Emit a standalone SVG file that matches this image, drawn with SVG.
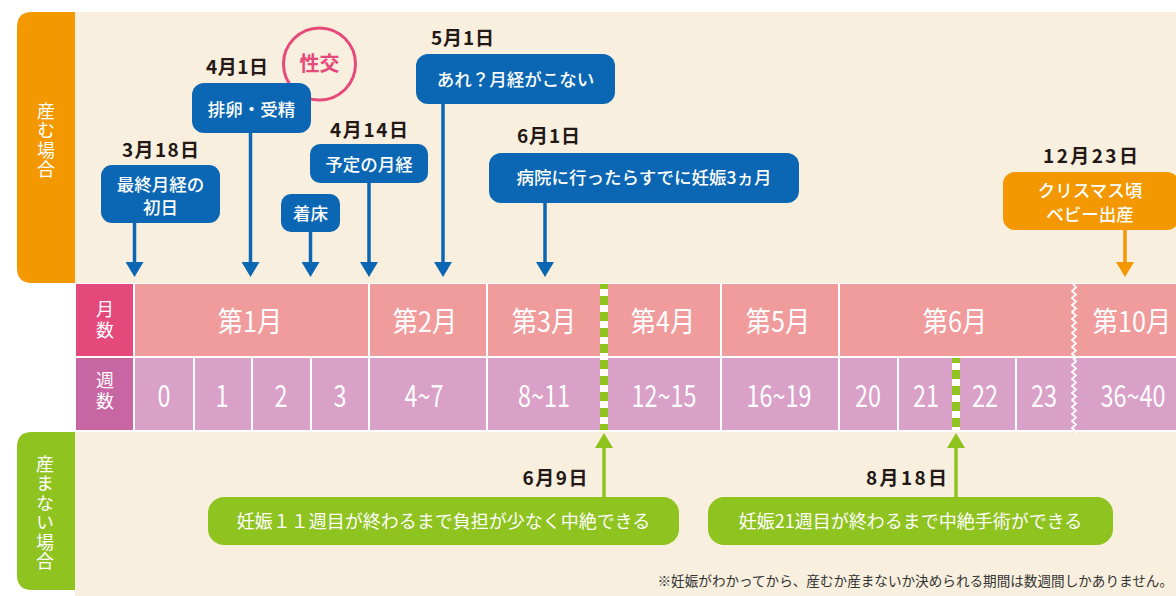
<svg xmlns="http://www.w3.org/2000/svg" width="1176" height="596" viewBox="0 0 1176 596">
<defs>
<style>
text{font-family:"Noto Sans CJK JP","Noto Sans CJK SC",sans-serif}
.cream{fill:#F8EFDE}
.vt{fill:#fff;font-size:18px;text-anchor:middle;writing-mode:vertical-rl}
.date{fill:#231815;font-size:19px;font-weight:700;text-anchor:middle}
.bx{fill:#0B67B3}
.bt{fill:#fff;font-size:17.5px;font-weight:500;text-anchor:middle}
.gt{fill:#fff;font-size:18px;text-anchor:middle}
.tm{fill:#fff;font-size:28px;text-anchor:middle}
.tw{fill:#fff;font-size:30px;text-anchor:middle}
.sep{stroke:#fff;stroke-width:2}
.blue{stroke:#0B67B3;stroke-width:3.5;fill:none}
.gline{stroke:#8FC31F;stroke-width:3.5;fill:none}
</style>
<marker id="ab" markerUnits="userSpaceOnUse" viewBox="0 0 15 18" refX="0" refY="9" markerWidth="15" markerHeight="18" orient="auto"><path d="M0,0 L15,9 L0,18 Z" fill="#0B67B3"/></marker>
<marker id="ao" markerUnits="userSpaceOnUse" viewBox="0 0 15 18" refX="0" refY="9" markerWidth="15" markerHeight="18" orient="auto"><path d="M0,0 L15,9 L0,18 Z" fill="#F39800"/></marker>
<marker id="ag" markerUnits="userSpaceOnUse" viewBox="0 0 15 18" refX="0" refY="9" markerWidth="15" markerHeight="18" orient="auto"><path d="M0,0 L15,9 L0,18 Z" fill="#8FC31F"/></marker>
</defs>
<rect width="1176" height="596" fill="#fff"/>

<g id="panel-top">
<rect class="cream" x="75" y="12" width="1101" height="271"/>
<path d="M75,12 H32 Q17,12 17,27 V268 Q17,283 32,283 H75 Z" fill="#F39800"/>
<text class="vt" x="46" y="141" letter-spacing="1.5">産む場合</text>
</g>

<g id="panel-bottom">
<rect class="cream" x="75" y="432" width="1101" height="164"/>
<path d="M75,432 H32 Q17,432 17,447 V575 Q17,590 32,590 H75 Z" fill="#8FC31F"/>
<text class="vt" x="45" y="513.5" letter-spacing="1.5">産まない場合</text>
</g>

<g id="table">
<rect x="76" y="284" width="57" height="72" fill="#E5497B"/>
<rect x="135" y="284" width="1041" height="72" fill="#F09B9C"/>
<rect x="76" y="358" width="57" height="72" fill="#C866A4"/>
<rect x="135" y="358" width="1041" height="72" fill="#D9A0C8"/>
<g class="sep">
<line x1="369" y1="284" x2="369" y2="430"/>
<line x1="487" y1="284" x2="487" y2="430"/>
<line x1="721" y1="284" x2="721" y2="430"/>
<line x1="839" y1="284" x2="839" y2="430"/>
<line x1="194" y1="358" x2="194" y2="430"/>
<line x1="252" y1="358" x2="252" y2="430"/>
<line x1="311" y1="358" x2="311" y2="430"/>
<line x1="898" y1="358" x2="898" y2="430"/>
<line x1="1016" y1="358" x2="1016" y2="430"/>
</g>
<path d="M1073,284 l3,3.5 -4,3.5 4,3.5 -4,3.5 4,3.5 -4,3.5 4,3.5 -4,3.5 4,3.5 -4,3.5 4,3.5 -4,3.5 4,3.5 -4,3.5 4,3.5 -4,3.5 4,3.5 -4,3.5 4,3.5 -4,3.5 4,3.5 -1,1.5 M1073,358 l3,3.5 -4,3.5 4,3.5 -4,3.5 4,3.5 -4,3.5 4,3.5 -4,3.5 4,3.5 -4,3.5 4,3.5 -4,3.5 4,3.5 -4,3.5 4,3.5 -4,3.5 4,3.5 -4,3.5 4,3.5 -4,3.5 4,3.5 -1,1.5" fill="none" stroke="#fff" stroke-width="1.8"/>
<text class="vt" x="105" y="321.5" letter-spacing="3">月数</text>
<text class="vt" x="105" y="392.5" letter-spacing="3">週数</text>
<text class="tm" transform="translate(250,332) scale(0.9,1)">第1月</text>
<text class="tm" transform="translate(425,332) scale(0.9,1)">第2月</text>
<text class="tm" transform="translate(544,332) scale(0.9,1)">第3月</text>
<text class="tm" transform="translate(663,332) scale(0.9,1)">第4月</text>
<text class="tm" transform="translate(778,332) scale(0.9,1)">第5月</text>
<text class="tm" transform="translate(955,332) scale(0.9,1)">第6月</text>
<text class="tm" transform="translate(1132,332) scale(0.9,1)">第10月</text>
<text class="tw" transform="translate(164,407) scale(0.78,1)">0</text>
<text class="tw" transform="translate(222,407) scale(0.78,1)">1</text>
<text class="tw" transform="translate(281,407) scale(0.78,1)">2</text>
<text class="tw" transform="translate(340,407) scale(0.78,1)">3</text>
<text class="tw" transform="translate(424,407) scale(0.78,1)">4~7</text>
<text class="tw" transform="translate(544,407) scale(0.78,1)">8~11</text>
<text class="tw" transform="translate(664,407) scale(0.78,1)">12~15</text>
<text class="tw" transform="translate(779,407) scale(0.78,1)">16~19</text>
<text class="tw" transform="translate(868,407) scale(0.78,1)">20</text>
<text class="tw" transform="translate(926,407) scale(0.78,1)">21</text>
<text class="tw" transform="translate(985,407) scale(0.78,1)">22</text>
<text class="tw" transform="translate(1044,407) scale(0.78,1)">23</text>
<text class="tw" transform="translate(1133,407) scale(0.78,1)">36~40</text>
<line x1="604" y1="284" x2="604" y2="430" stroke="#fff" stroke-width="8"/>
<line x1="604" y1="284" x2="604" y2="430" stroke="#8FC31F" stroke-width="8" stroke-dasharray="9 7" stroke-dashoffset="4"/>
<line x1="956" y1="358" x2="956" y2="430" stroke="#fff" stroke-width="8"/>
<line x1="956" y1="358" x2="956" y2="430" stroke="#8FC31F" stroke-width="8" stroke-dasharray="9 7" stroke-dashoffset="4"/>
</g>

<g id="connectors">
<path class="blue" d="M134.5,223 V262" marker-end="url(#ab)"/>
<path class="blue" d="M250.5,133 V262" marker-end="url(#ab)"/>
<path class="blue" d="M310.5,232 V262" marker-end="url(#ab)"/>
<path class="blue" d="M369,183 V262" marker-end="url(#ab)"/>
<path class="blue" d="M443,104 V262" marker-end="url(#ab)"/>
<path class="blue" d="M545,203 V262" marker-end="url(#ab)"/>
<path d="M1125,230 V262" stroke="#F39800" stroke-width="3.5" fill="none" marker-end="url(#ao)"/>
<path class="gline" d="M604,497 V448" marker-end="url(#ag)"/>
<path class="gline" d="M956,497 V448" marker-end="url(#ag)"/>
</g>

<g id="node-seikou">
<circle cx="319.5" cy="64" r="36" fill="none" stroke="#E6497B" stroke-width="3"/>
<text x="319.5" y="71" fill="#E6497B" font-size="20" font-weight="700" text-anchor="middle">性交</text>
</g>

<g id="node-0318">
<text class="date" x="160.5" y="157" textLength="77" lengthAdjust="spacing">3月18日</text>
<rect class="bx" x="101" y="165" width="119" height="58" rx="11"/>
<text class="bt" x="160.5" y="191">最終月経の</text>
<text class="bt" x="160.5" y="214">初日</text>
</g>

<g id="node-0401">
<text class="date" x="237" y="74" textLength="62" lengthAdjust="spacing">4月1日</text>
<rect class="bx" x="192" y="83" width="119" height="50" rx="12"/>
<text class="bt" x="251.5" y="116">排卵・受精</text>
</g>

<g id="node-chakushou">
<rect class="bx" x="281" y="194" width="59" height="38" rx="10"/>
<text class="bt" x="310.5" y="220">着床</text>
</g>

<g id="node-0414">
<text class="date" x="369" y="137" textLength="78" lengthAdjust="spacing">4月14日</text>
<rect class="bx" x="310" y="144" width="118" height="39" rx="10"/>
<text class="bt" x="369" y="171">予定の月経</text>
</g>

<g id="node-0501">
<text class="date" x="462.5" y="45" textLength="63" lengthAdjust="spacing">5月1日</text>
<rect class="bx" x="416" y="54" width="199" height="50" rx="12"/>
<text class="bt" x="515.5" y="86">あれ？月経がこない</text>
</g>

<g id="node-0601">
<text class="date" x="548.5" y="143" textLength="63" lengthAdjust="spacing">6月1日</text>
<rect class="bx" x="489" y="153" width="310" height="50" rx="12"/>
<text class="bt" x="644" y="184">病院に行ったらすでに妊娠3ヵ月</text>
</g>

<g id="node-1223">
<text class="date" x="1090.5" y="163" textLength="95" lengthAdjust="spacing">12月23日</text>
<rect x="1003" y="172" width="176" height="58" rx="12" fill="#F39800"/>
<text class="bt" x="1090" y="197">クリスマス頃</text>
<text class="bt" x="1090" y="221">ベビー出産</text>
</g>

<g id="node-0609">
<text class="date" x="555" y="485" textLength="65" lengthAdjust="spacing">6月9日</text>
<rect x="208" y="497" width="471" height="48" rx="16" fill="#8FC31F"/>
<text class="gt" x="443.5" y="528">妊娠１１週目が終わるまで負担が少なく中絶できる</text>
</g>

<g id="node-0818">
<text class="date" x="906.5" y="485" textLength="81" lengthAdjust="spacing">8月18日</text>
<rect x="708" y="497" width="405" height="48" rx="16" fill="#8FC31F"/>
<text class="gt" x="910.5" y="528">妊娠21週目が終わるまで中絶手術ができる</text>
</g>

<g id="note">
<text x="1173" y="586" fill="#333" font-size="13.6" text-anchor="end">※妊娠がわかってから、産むか産まないか決められる期間は数週間しかありません。</text>
</g>
</svg>
